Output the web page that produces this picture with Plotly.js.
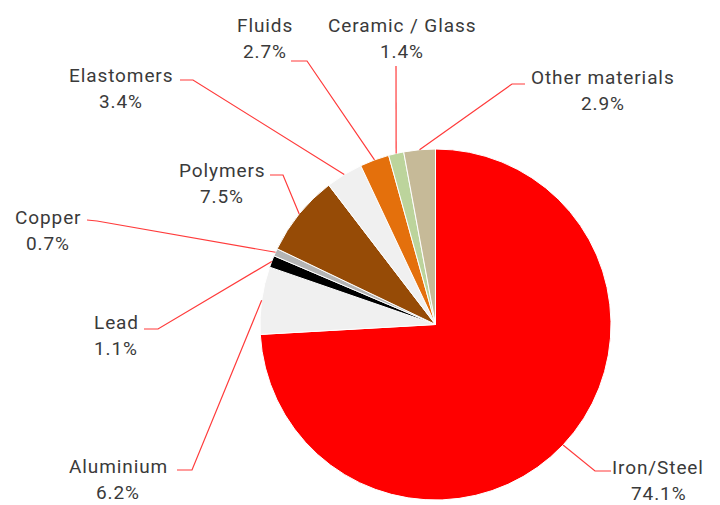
<!DOCTYPE html>
<html>
<head>
<meta charset="utf-8">
<script src="https://cdn.plot.ly/plotly-3.0.1.min.js"></script>
<style>
html, body { margin: 0; padding: 0; background: #fff; }
#chart { width: 720px; height: 505px; }
.annotation-text { letter-spacing: 0.9px; }
</style>
</head>
<body>
<div id="chart"></div>
<script>
// ---- data ----
const materials = ["Iron/Steel", "Aluminium", "Lead", "Copper", "Polymers", "Elastomers", "Fluids", "Ceramic / Glass", "Other materials"];
const shares = [74.1, 6.2, 1.1, 0.7, 7.5, 3.4, 2.7, 1.4, 2.9];
const sliceColors = ["#ff0000", "#f0f0f0", "#000000", "#b4b4b4", "#964b06", "#f0f0f0", "#e4700c", "#bcd49c", "#c6ba98"];

// ---- layout configuration (pixel positions of label text and leader elbows) ----
const W = 720, H = 505;
const pieDomain = { x: [260 / W, 611 / W], y: [1 - 500 / H, 1 - 149 / H] };
// label centre [x, y of name line]
const labelPos = [[658, 467], [118, 466], [116, 322], [48, 217], [222, 170], [121, 75], [265, 25], [402, 25], [603, 77]];
// leader: [end near text x, end y, elbow x, elbow y]
const leaderPts = [
  [611, 471, 595, 471],
  [177, 470, 192, 470],
  [144, 329, 158, 329],
  [87, 220, 97, 221],
  [270, 175, 283, 175],
  [180, 80, 193, 80],
  [291, 61, 307, 61],
  [396, 66, 396, 66],
  [525, 84, 512, 84]
];
const lineGap = 26;

// pie geometry from domain
const px0 = pieDomain.x[0] * W, px1 = pieDomain.x[1] * W;
const py0 = (1 - pieDomain.y[1]) * H, py1 = (1 - pieDomain.y[0]) * H;
const cx = (px0 + px1) / 2, cy = (py0 + py1) / 2;
const R = Math.min(px1 - px0, py1 - py0) / 2;

const total = shares.reduce((a, b) => a + b, 0);
let cum = 0;
const shapes = [];
const annotations = [];
const txtFont = { family: "Roboto, 'DejaVu Sans', sans-serif", size: 19, color: "#3a3a3a" };
materials.forEach((m, i) => {
  const mid = (cum + shares[i] / 2) / total * 2 * Math.PI; // clockwise from top
  cum += shares[i];
  const ax = cx + R * Math.sin(mid);
  const ay = cy - R * Math.cos(mid);
  const [ex, ey, bx, by] = leaderPts[i];
  shapes.push({
    type: "path", xref: "x", yref: "y",
    path: `M ${ax} ${ay} L ${bx} ${by} L ${ex} ${ey}`,
    line: { color: "#ff3b3b", width: 1.2 }
  });
  annotations.push({
    xref: "x", yref: "y", x: labelPos[i][0], y: labelPos[i][1], borderpad: 0,
    text: m, showarrow: false, font: txtFont, xanchor: "center", yanchor: "middle"
  });
  annotations.push({
    xref: "x", yref: "y", x: labelPos[i][0], y: labelPos[i][1] + lineGap, borderpad: 0,
    text: shares[i].toFixed(1) + "%", showarrow: false, font: txtFont, xanchor: "center", yanchor: "middle"
  });
});

const trace = {
  type: "pie",
  labels: materials,
  values: shares,
  sort: false,
  direction: "clockwise",
  rotation: 0,
  textinfo: "none",
  hoverinfo: "label+percent",
  marker: { colors: sliceColors, line: { color: "#ffffff", width: 1 } },
  domain: pieDomain,
  showlegend: false
};

const layout = {
  width: W, height: H,
  margin: { l: 0, r: 0, t: 0, b: 0 },
  paper_bgcolor: "#ffffff",
  plot_bgcolor: "rgba(0,0,0,0)",
  showlegend: false,
  xaxis: { range: [0, W], visible: false, fixedrange: true, domain: [0, 1] },
  yaxis: { range: [H, 0], visible: false, fixedrange: true, domain: [0, 1] },
  shapes: shapes,
  annotations: annotations
};

Plotly.newPlot("chart", [trace], layout, { displayModeBar: false, staticPlot: true });
</script>
</body>
</html>
